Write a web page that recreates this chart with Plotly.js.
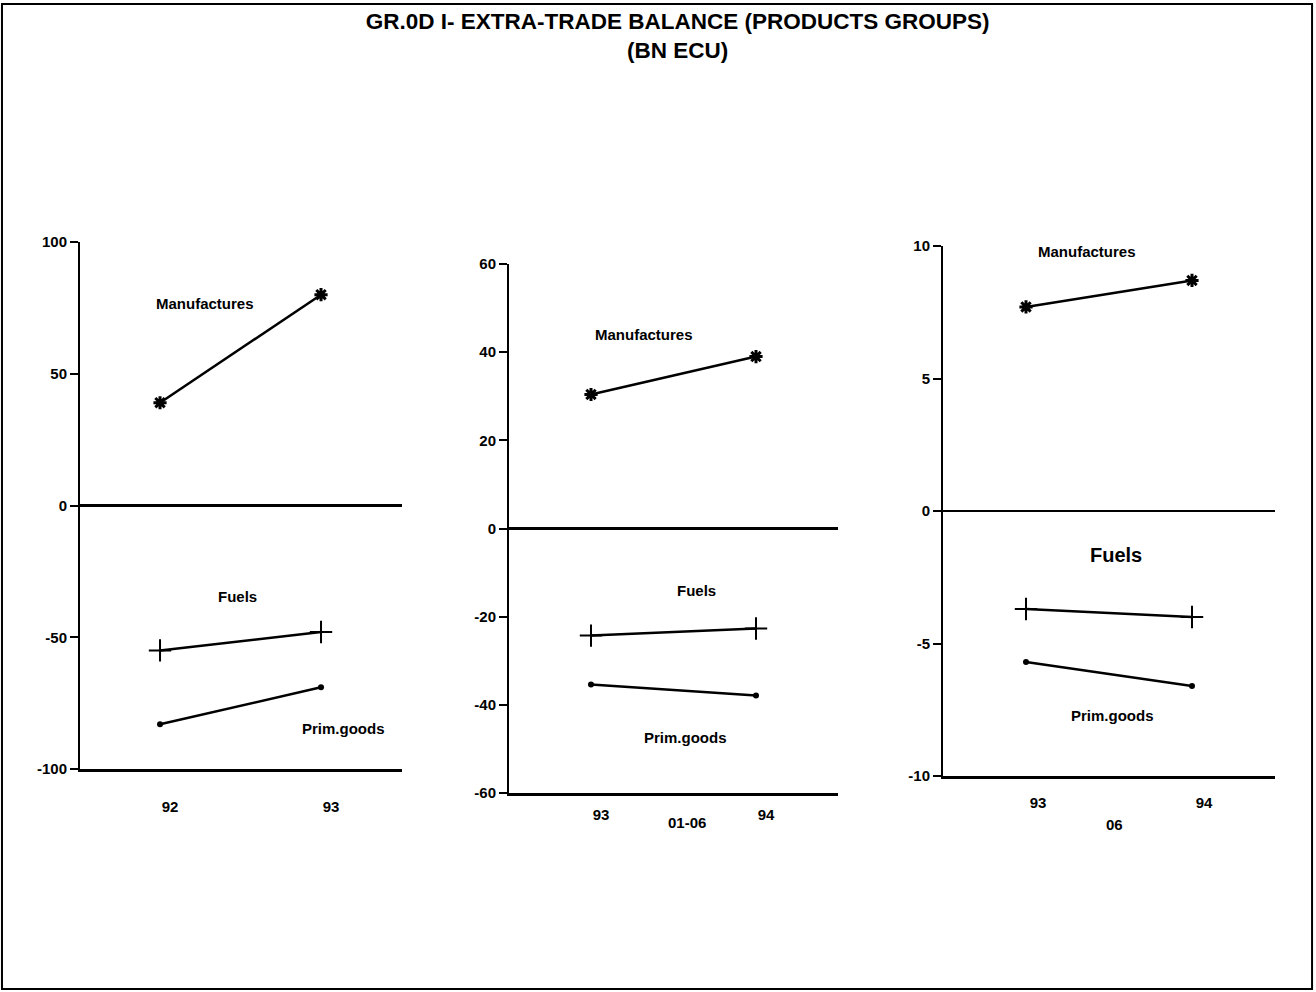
<!DOCTYPE html>
<html>
<head>
<meta charset="utf-8">
<script src="https://cdn.plot.ly/plotly-3.0.1.min.js"></script>
<style>html,body{margin:0;padding:0;background:#fff}</style>
</head>
<body>
<div id="chart" style="width:1316px;height:992px"></div>
<script>
// Panel 1: annual 92 vs 93
const years1 = [92, 93];
const manuf1 = [39, 80];
const fuels1 = [-55, -48];
const prim1 = [-83, -69];
// Panel 2: Jan-Jun 93 vs 94
const years2 = [93, 94];
const manuf2 = [30.4, 39];
const fuels2 = [-24.3, -22.7];
const prim2 = [-35.4, -37.9];
// Panel 3: June 93 vs 94
const years3 = [93, 94];
const manuf3 = [7.7, 8.7];
const fuels3 = [-3.7, -4.0];
const prim3 = [-5.7, -6.6];

const tickText1 = ['92', '93'];
const tickText2 = ['93', '94'];
const tickText3 = ['93', '94'];
const yTicks1 = [-100, -50, 0, 50, 100];
const yTickText1 = ['-100', '-50', '0', '50', '100'];
const yTicks2 = [-60, -40, -20, 0, 20, 40, 60];
const yTickText2 = ['-60', '-40', '-20', '0', '20', '40', '60'];
const yTicks3 = [-10, -5, 0, 5, 10];
const yTickText3 = ['-10', '-5', '0', '5', '10'];
const periodLabels = ['', '01-06', '06'];
const seriesNames = ['Manufactures', 'Fuels', 'Prim.goods'];

const FONT = 'Liberation Sans, Arial, sans-serif';
const lineStyle = {color: '#000', width: 2.5};

function series(x, m, f, p, xa, ya) {
  return [
    {x: x, y: m, xaxis: xa, yaxis: ya, type: 'scatter', mode: 'lines+markers', name: seriesNames[0],
     line: lineStyle, marker: {symbol: 'asterisk-open', size: 11, color: '#000', line: {color: '#000', width: 3}}},
    {x: x, y: f, xaxis: xa, yaxis: ya, type: 'scatter', mode: 'lines+markers', name: seriesNames[1],
     line: lineStyle, marker: {symbol: 'cross-thin-open', size: 16, color: '#000', line: {color: '#000', width: 2}}},
    {x: x, y: p, xaxis: xa, yaxis: ya, type: 'scatter', mode: 'lines+markers', name: seriesNames[2],
     line: lineStyle, marker: {symbol: 'circle', size: 6, color: '#000'}}
  ];
}

const data = [].concat(
  series(years1, manuf1, fuels1, prim1, 'x', 'y'),
  series(years2, manuf2, fuels2, prim2, 'x2', 'y2'),
  series(years3, manuf3, fuels3, prim3, 'x3', 'y3')
);

function xaxis(domain, range, tv, tt, standoff, shift, anchor) {
  return {
    domain: domain, range: range, anchor: anchor,
    tickvals: tv, ticktext: tt, ticks: '', showgrid: false, zeroline: false,
    showline: true, linecolor: '#000', linewidth: 3,
    ticklabelshift: shift, ticklabelstandoff: standoff,
    tickfont: {family: FONT, size: 15, color: '#000', weight: 'bold'},
    fixedrange: true
  };
}
function yaxis(domain, range, tv, tt, anchor) {
  return {
    domain: domain, range: range, anchor: anchor,
    tickvals: tv, ticktext: tt, ticks: 'outside', ticklen: 8, tickwidth: 2, tickcolor: '#000',
    showgrid: false, zeroline: true, zerolinecolor: '#000', zerolinewidth: 2.5,
    showline: true, linecolor: '#000', linewidth: 2,
    tickfont: {family: FONT, size: 15, color: '#000', weight: 'bold'},
    ticklabelstandoff: 0,
    fixedrange: true
  };
}

function ann(text, x, y, xr, yr, size) {
  return {text: text, x: x, y: y, xref: xr, yref: yr, showarrow: false,
          xanchor: 'center', yanchor: 'middle',
          font: {family: FONT, size: size || 15, color: '#000', weight: 'bold'}};
}

const layout = {
  width: 1316, height: 992,
  margin: {l: 0, r: 0, t: 0, b: 0},
  paper_bgcolor: '#fff', plot_bgcolor: 'rgba(0,0,0,0)',
  showlegend: false,
  title: {
    text: 'GR.0D I- EXTRA-TRADE BALANCE (PRODUCTS GROUPS)<br>(BN ECU)',
    x: 0.515, xanchor: 'center', xref: 'paper', y: 0.971, yanchor: 'top', yref: 'container',
    font: {family: FONT, size: 22.5, color: '#000', weight: 'bold'}
  },
  xaxis: xaxis([80/1316, 402/1316], [91.503, 93.503], years1, tickText1, 22, 10, 'y'),
  yaxis: yaxis([1 - 769/992, 1 - 242/992], [-100, 100], yTicks1, yTickText1, 'x'),
  xaxis2: xaxis([509/1316, 838/1316], [92.503, 94.497], years2, tickText2, 6, 10, 'y2'),
  yaxis2: yaxis([1 - 793/992, 1 - 264/992], [-60, 60], yTicks2, yTickText2, 'x2'),
  xaxis3: xaxis([943/1316, 1275/1316], [92.5, 94.5], years3, tickText3, 11, 12, 'y3'),
  yaxis3: yaxis([1 - 776/992, 1 - 246/992], [-10, 10], yTicks3, yTickText3, 'x3'),
  annotations: [
    ann(seriesNames[0], 92.28, 76.5, 'x', 'y'),
    ann(seriesNames[1], 92.48, -34.5, 'x', 'y'),
    ann(seriesNames[2], 93.14, -84.5, 'x', 'y'),
    ann(seriesNames[0], 93.32, 44.1, 'x2', 'y2'),
    ann(seriesNames[1], 93.64, -14.1, 'x2', 'y2'),
    ann(seriesNames[2], 93.57, -47.4, 'x2', 'y2'),
    ann(seriesNames[0], 93.37, 9.78, 'x3', 'y3'),
    ann(seriesNames[1], 93.54, -1.66, 'x3', 'y3', 20),
    ann(seriesNames[2], 93.52, -7.7, 'x3', 'y3'),
    ann(periodLabels[1], 0.541, -0.055, 'x2 domain', 'y2 domain'),
    ann(periodLabels[2], 0.518, -0.092, 'x3 domain', 'y3 domain')
  ],
  shapes: [
    {type: 'rect', xref: 'paper', yref: 'paper', x0: 0.0015, x1: 0.997, y0: 0.003, y1: 0.996,
     line: {color: '#000', width: 2}}
  ]
};

Plotly.newPlot('chart', data, layout, {displayModeBar: false, staticPlot: true});
</script>
</body>
</html>
